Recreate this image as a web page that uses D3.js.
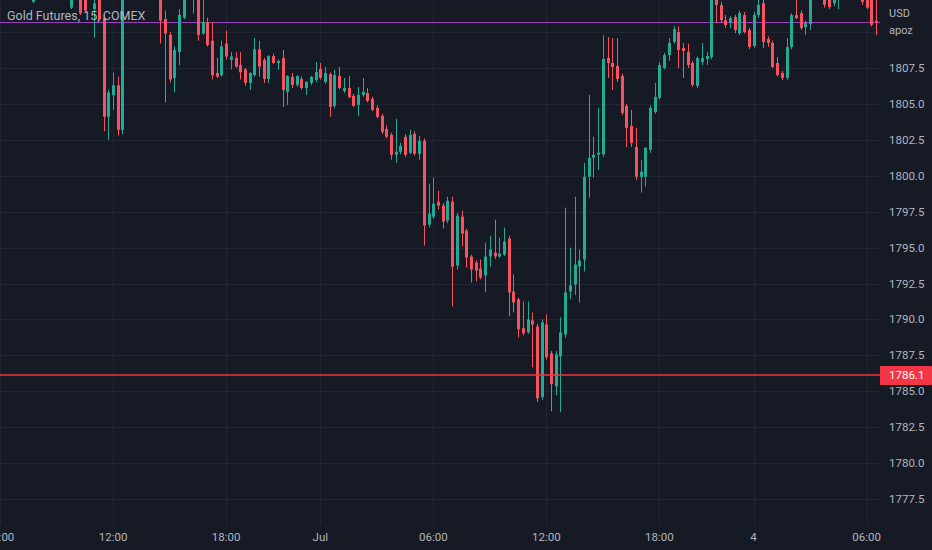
<!DOCTYPE html>
<html><head><meta charset="utf-8">
<script src="https://cdn.jsdelivr.net/npm/d3@7"></script>
<style>html,body{margin:0;padding:0;background:#161a25;overflow:hidden}svg{display:block}</style>
</head><body>
<svg id="c" width="932" height="550"></svg>
<script>
// ---- data (15-minute bars) ----
const opens = [1814.0,1813.6,1813.3,1813.5,1814.0,1813.4,1813.0,1812.1,1812.9,1813.2,1813.5,1813.3,1813.0,1812.8,1812.7,1811.7,1812.4,1812.6,1812.5,1812.4,
1811.6,1812.4,1811.0,1804.1,1805.6,1806.3,1803.2,1812.6,1813.2,1813.8,1813.5,1813.9,1813.6,1813.1,1812.8,1810.9,1809.8,1806.8,1808.6,1811.0,
1812.5,1812.9,1813.0,1809.9,1810.7,1809.4,1807.15,1807.0,1809.2,1808.06,1808.2,1807.7,1807.4,1806.46,1807.0,1808.8,1808.06,1806.74,1808.33,1807.85,
1808.19,1805.83,1806.88,1806.32,1806.74,1806.11,1806.46,1806.67,1807.43,1806.53,1807.08,1804.86,1806.94,1805.9,1806.11,1805.56,1804.93,1805.63,1805.76,1805.35,
1804.72,1804.17,1803.26,1802.85,1801.46,1801.67,1802.71,1801.6,1802.92,1801.53,1802.43,1796.6,1797.15,1798.19,1797.92,1796.88,1798.19,1793.75,1797.15,1796.18,
1794.38,1793.96,1793.54,1793.06,1794.38,1794.65,1794.38,1794.51,1795.63,1791.94,1791.39,1789.38,1789.1,1789.93,1789.51,1784.58,1789.65,1787.64,1785.35,1787.43,
1788.96,1791.94,1792.43,1793.68,1794.17,1799.93,1801.25,1801.46,1801.5,1808.19,1807.85,1807.64,1806.94,1804.86,1803.47,1802.01,1799.93,1799.93,1801.81,1804.44,
1805.42,1807.5,1808.4,1809.31,1810.0,1808.89,1808.61,1807.85,1806.25,1807.92,1808.13,1808.26,1812.6,1811.88,1810.83,1810.69,1811.04,1809.93,1811.18,1810.14,
1809.03,1811.18,1812.01,1809.51,1809.24,1807.85,1807.15,1806.81,1808.96,1811.18,1811.32,1810.35,1810.56,1812.4,1812.8,1812.6,1812.3,1812.0,1812.3,1812.8,
1812.9,1813.1,1812.8,1812.6,1812.4,1812.5,1810.8];
const highs = [1814.6,1814.2,1813.9,1814.4,1814.3,1813.8,1813.5,1813.3,1813.6,1813.8,1814.0,1813.7,1813.4,1813.2,1813.1,1812.6,1813.0,1813.0,1812.9,1813.0,
1812.5,1812.8,1811.2,1806.0,1807.2,1806.9,1813.0,1813.6,1814.0,1814.3,1814.1,1814.5,1814.0,1813.6,1813.2,1811.5,1810.0,1809.0,1811.6,1812.9,
1813.2,1813.4,1813.3,1812.4,1811.0,1810.7,1808.2,1809.4,1810.1,1808.6,1808.6,1808.6,1807.5,1807.2,1809.6,1809.4,1808.2,1808.4,1808.5,1808.1,
1808.75,1807.0,1807.15,1807.0,1806.9,1806.6,1806.95,1807.92,1807.85,1807.57,1807.2,1807.36,1807.57,1806.81,1806.94,1805.7,1806.18,1806.81,1806.1,1805.5,
1804.9,1804.3,1803.5,1803.0,1803.96,1802.3,1802.9,1803.2,1803.1,1802.78,1802.6,1799.44,1799.86,1798.96,1798.1,1798.54,1798.54,1797.4,1797.57,1796.3,
1794.5,1794.1,1794.17,1795.35,1795.83,1796.94,1795.69,1796.39,1795.83,1793.13,1791.5,1791.25,1791.25,1790.49,1789.7,1790.0,1790.35,1787.8,1787.8,1790.14,
1797.78,1795.0,1798.54,1794.86,1800.9,1805.63,1802.71,1804.72,1809.79,1809.65,1809.58,1809.58,1807.1,1805.0,1804.58,1803.33,1801.1,1802.0,1804.9,1806.46,
1807.9,1808.55,1809.58,1810.42,1810.4,1809.24,1809.2,1808.0,1808.3,1809.24,1808.61,1813.0,1813.0,1812.1,1811.18,1811.1,1811.2,1811.5,1811.4,1810.3,
1811.4,1812.5,1812.6,1809.7,1809.4,1808.26,1807.3,1809.58,1811.32,1812.4,1811.5,1810.8,1812.8,1813.0,1813.2,1812.9,1812.6,1812.5,1813.0,1813.2,
1813.3,1813.4,1813.1,1812.9,1812.8,1812.9,1812.5];
const lows = [1813.2,1813.0,1812.8,1813.2,1813.1,1812.7,1812.6,1812.0,1812.6,1812.9,1813.0,1812.8,1812.6,1812.5,1812.4,1811.6,1812.3,1811.2,1811.4,1812.3,
1809.6,1810.8,1803.1,1802.5,1804.6,1802.8,1802.9,1812.4,1812.9,1813.2,1813.0,1813.4,1812.9,1812.5,1809.2,1805.1,1806.5,1805.8,1807.7,1810.9,
1812.3,1811.3,1809.4,1809.8,1809.0,1806.7,1806.8,1806.9,1808.1,1807.4,1807.5,1806.7,1806.25,1805.97,1806.9,1806.9,1806.46,1806.46,1807.8,1807.36,
1804.79,1804.93,1806.1,1806.2,1806.0,1805.63,1806.3,1806.5,1806.7,1806.4,1804.1,1804.7,1806.0,1805.76,1805.4,1804.8,1804.17,1805.5,1805.1,1804.5,
1804.0,1802.9,1802.6,1801.11,1800.9,1801.5,1801.3,1801.5,1801.4,1801.11,1795.14,1796.4,1797.0,1797.64,1796.32,1796.7,1790.9,1793.47,1795.07,1793.61,
1792.57,1792.64,1792.8,1791.88,1793.68,1794.2,1794.3,1794.4,1790.21,1790.49,1788.75,1788.9,1789.0,1786.67,1784.24,1784.4,1787.2,1783.61,1784.72,1783.54,
1788.7,1791.39,1791.7,1791.18,1793.33,1798.47,1799.86,1800.4,1801.3,1806.81,1805.97,1806.53,1804.24,1802.01,1802.0,1799.7,1798.82,1799.24,1801.6,1804.3,
1805.3,1807.4,1808.0,1809.2,1807.5,1806.81,1807.5,1806.18,1806.1,1807.7,1807.71,1808.1,1810.63,1810.63,1810.28,1810.28,1809.93,1809.79,1809.9,1808.8,
1808.9,1811.0,1808.89,1808.96,1807.5,1806.9,1806.67,1806.67,1808.8,1810.9,1810.14,1809.79,1810.14,1812.3,1812.3,1811.7,1811.6,1811.8,1811.6,1812.4,
1812.5,1812.6,1812.3,1811.9,1811.6,1810.4,1809.8];
const closes = [1813.6,1813.3,1813.5,1814.0,1813.4,1813.0,1812.9,1812.9,1813.2,1813.5,1813.3,1813.0,1812.8,1812.7,1812.6,1812.4,1812.8,1811.3,1811.5,1812.6,
1812.0,1810.9,1804.1,1805.8,1806.3,1803.2,1812.6,1813.2,1813.8,1813.5,1813.9,1813.6,1813.1,1812.8,1810.8,1809.9,1806.7,1808.75,1811.2,1812.5,
1812.9,1813.1,1809.8,1810.7,1809.1,1807.0,1806.9,1809.0,1808.3,1808.3,1807.6,1807.2,1806.46,1807.15,1808.8,1807.6,1806.74,1808.33,1807.85,1807.99,
1805.97,1806.94,1806.32,1806.94,1806.11,1806.53,1806.88,1807.22,1806.81,1807.15,1804.79,1807.01,1806.11,1806.11,1805.49,1804.86,1805.63,1805.83,1805.21,1804.58,
1804.10,1803.06,1802.71,1801.46,1801.67,1802.08,1801.46,1802.85,1801.53,1802.43,1796.53,1797.36,1798.06,1797.92,1796.81,1798.26,1793.68,1797.22,1795.97,1794.31,
1793.47,1793.40,1792.92,1794.38,1794.86,1794.38,1794.58,1795.42,1791.88,1791.18,1789.31,1789.03,1790.0,1789.65,1784.51,1789.79,1787.36,1785.49,1787.57,1789.1,
1791.88,1792.36,1793.82,1794.1,1799.93,1801.25,1801.46,1801.6,1808.13,1807.85,1807.57,1806.74,1804.38,1803.33,1802.29,1799.93,1800.28,1801.94,1804.72,1805.49,
1807.71,1808.4,1809.24,1810.21,1808.75,1808.68,1807.71,1806.32,1808.19,1808.19,1808.33,1812.6,1811.88,1810.83,1810.49,1810.97,1810.14,1811.32,1810.0,1808.96,
1811.18,1811.88,1809.31,1809.24,1807.57,1807.01,1806.81,1808.96,1811.18,1810.97,1810.28,1810.63,1812.4,1812.8,1812.5,1811.9,1811.74,1812.3,1812.8,1812.9,
1813.1,1812.8,1812.6,1812.1,1811.7,1810.5,1810.7];

const timeTickBars = [0, 24, 48, 68, 92, 116, 140, 160, 184];
const timeTickLabels = ["06:00", "12:00", "18:00", "Jul", "06:00", "12:00", "18:00", "4", "06:00"];
const priceTicks = [1777.5, 1780, 1782.5, 1785, 1787.5, 1790, 1792.5, 1795, 1797.5, 1800, 1802.5, 1805, 1807.5, 1810];
const priceLabelTicks = [1777.5, 1780, 1782.5, 1785, 1787.5, 1790, 1792.5, 1795, 1797.5, 1800, 1802.5, 1805, 1807.5];
const hLinePrice = 1786.1;
const lastPrice = 1810.7;
const title = "Gold Futures, 15, COMEX";
const axisNotes = ["USD", "apoz"];

// ---- layout ----
const W = 932, H = 550, plotW = 880, plotH = 525;
const barStep = 4.71;
const C = {bg:"#161a25", grid:"#212533", text:"#b2b5be", up:"#22ab94", down:"#f7525f", hline:"#f23645", last:"#9b3fc0"};
const FONT = "Roboto, 'Liberation Sans', sans-serif";

const bars = opens.map((o, i) => ({i, o, h: highs[i], l: lows[i], c: closes[i]}));

const x = d3.scaleLinear().domain([0, plotW / barStep]).range([0, plotW]);
const y = d3.scaleLinear().domain([1777.5, 1807.5]).range([499, 68]);

const svg = d3.select("#c");
svg.append("rect").attr("width", W).attr("height", H).attr("fill", C.bg);
svg.append("defs").append("clipPath").attr("id", "plot")
  .append("rect").attr("width", plotW).attr("height", plotH);

const crisp = v => Math.round(v) + 0.5;

// grid
const g = svg.append("g");
g.selectAll("line.v").data(timeTickBars).join("line")
  .attr("x1", d => crisp(x(d))).attr("x2", d => crisp(x(d)))
  .attr("y1", 0).attr("y2", plotH).attr("stroke", C.grid).attr("stroke-width", 1);
g.selectAll("line.h").data(priceTicks).join("line")
  .attr("x1", 0).attr("x2", plotW)
  .attr("y1", d => crisp(y(d))).attr("y2", d => crisp(y(d)))
  .attr("stroke", C.grid).attr("stroke-width", 1);

// last price line
svg.append("line").attr("x1", 0).attr("x2", plotW)
  .attr("y1", crisp(y(lastPrice))).attr("y2", crisp(y(lastPrice)))
  .attr("stroke", C.last).attr("stroke-width", 1);

// candles
const cg = svg.append("g").attr("clip-path", "url(#plot)");
const bw = 3;
const cand = cg.selectAll("g.c").data(bars).join("g");
cand.append("line")
  .attr("x1", d => Math.round(x(d.i)) + 0.5).attr("x2", d => Math.round(x(d.i)) + 0.5)
  .attr("y1", d => y(d.h)).attr("y2", d => y(d.l))
  .attr("stroke", d => d.c >= d.o ? C.up : C.down).attr("stroke-width", 1);
cand.append("rect")
  .attr("x", d => Math.round(x(d.i)) - 1)
  .attr("width", bw)
  .attr("y", d => y(Math.max(d.o, d.c)))
  .attr("height", d => Math.max(1, Math.abs(y(d.o) - y(d.c))))
  .attr("fill", d => d.c >= d.o ? C.up : C.down);

// horizontal line
svg.append("line").attr("x1", 0).attr("x2", plotW)
  .attr("y1", Math.round(y(hLinePrice))).attr("y2", Math.round(y(hLinePrice)))
  .attr("stroke", C.hline).attr("stroke-width", 1.6);

// price axis labels
svg.append("g").selectAll("text").data(priceLabelTicks).join("text")
  .attr("x", 889).attr("y", d => y(d)).attr("dy", "0.35em")
  .attr("fill", C.text).attr("font-family", FONT).attr("font-size", 11.5)
  .text(d => d.toFixed(1));

// hline label
const hy = y(hLinePrice);
svg.append("rect").attr("x", 880).attr("y", hy - 9.5).attr("width", 52).attr("height", 19)
  .attr("fill", C.hline).attr("rx", 1);
svg.append("text").attr("x", 889).attr("y", hy).attr("dy", "0.35em")
  .attr("fill", "#ffffff").attr("font-family", FONT).attr("font-size", 11.5)
  .text(hLinePrice.toFixed(1));

// axis notes
svg.append("g").selectAll("text").data(axisNotes).join("text")
  .attr("x", 889).attr("y", (d, i) => 13 + i * 17).attr("dy", "0.35em")
  .attr("fill", C.text).attr("font-family", FONT).attr("font-size", 11)
  .text(d => d);

// time axis labels
svg.append("g").selectAll("text").data(timeTickBars).join("text")
  .attr("x", d => x(d)).attr("y", 537).attr("dy", "0.35em").attr("text-anchor", "middle")
  .attr("fill", C.text).attr("font-family", FONT).attr("font-size", 11.5)
  .text((d, i) => timeTickLabels[i]);

// title
svg.append("text").attr("x", 7).attr("y", 16).attr("dy", "0.35em")
  .attr("fill", C.text).attr("font-family", FONT).attr("font-size", 12.5)
  .text(title);
</script>
</body></html>
